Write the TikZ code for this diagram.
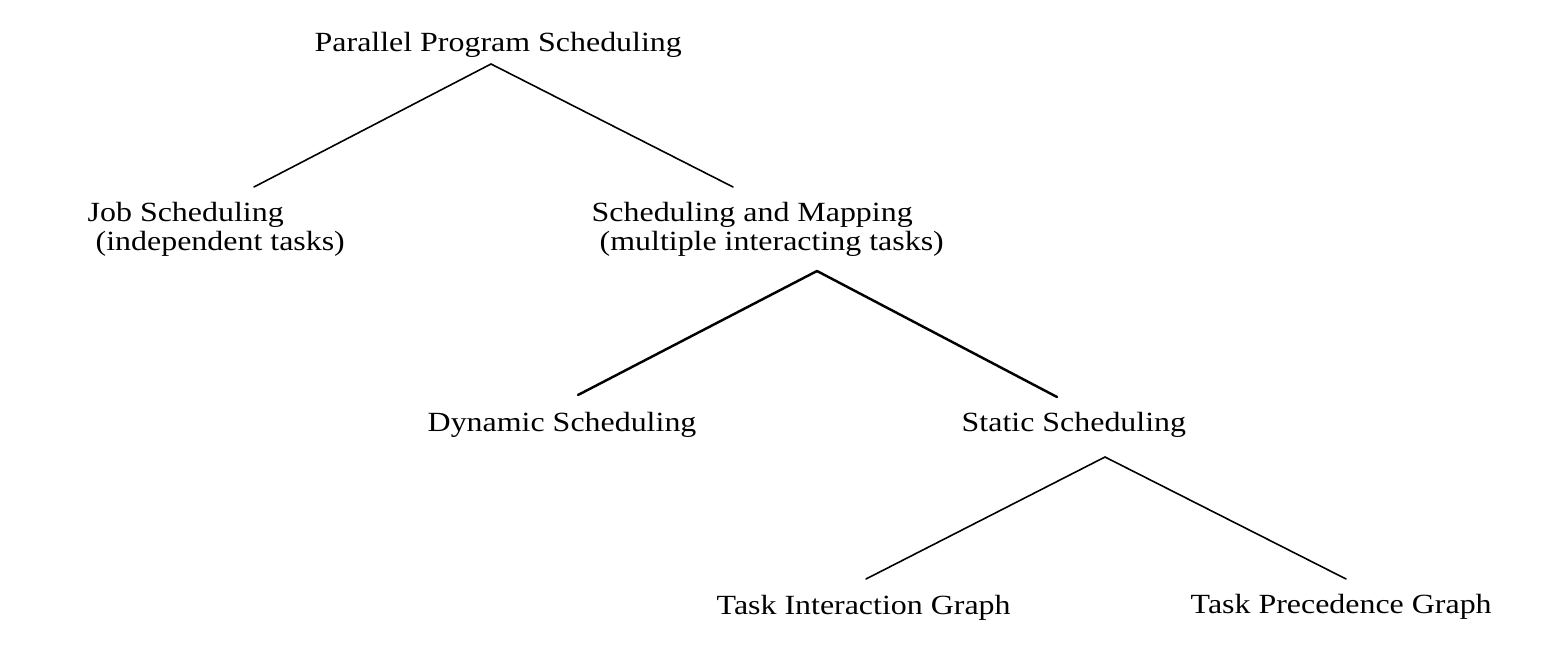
\documentclass[tikz,border=0pt]{standalone}
\usepackage{fontspec}
\setmainfont[FakeStretch=1.15]{Liberation Serif}
\usepackage{tkz-euclide}
\tikzset{label/.style={anchor=base west,inner sep=0pt,align=left,
    font=\fontsize{7.9}{8.3}\selectfont}}

\begin{document}
\begin{tikzpicture}
\path[use as bounding box] (0,0) rectangle (15.62,-6.62);
\tkzSetUpLine[line width=0.45pt,color=black]

\tkzDefPoints{4.91/-0.64/R,2.54/-1.87/J,7.33/-1.87/M}
\tkzDefPoints{8.17/-2.71/M1,5.78/-3.95/D,10.57/-3.97/S}
\tkzDefPoints{11.05/-4.57/S1,8.66/-5.79/I,13.46/-5.79/P}

% two-line labels sit on the baseline of their last line
\node[label] (root) at (3.14,-0.52) {Parallel Program Scheduling};
\node[label] (job) at (0.87,-2.51) {Job Scheduling\\\ (independent tasks)};
\node[label] (map) at (5.91,-2.51) {Scheduling and Mapping\\\ (multiple interacting tasks)};
\node[label] (dyn) at (4.27,-4.32) {Dynamic Scheduling};
\node[label] (stat) at (9.61,-4.32) {Static Scheduling};
\node[label] (tig) at (7.16,-6.15) {Task Interaction Graph};
\node[label] (tpg) at (11.90,-6.14) {Task Precedence Graph};

\tkzDrawSegments(R,J R,M)
\tkzDrawSegments[line width=0.7pt](M1,D M1,S)
\tkzDrawSegments(S1,I S1,P)

\end{tikzpicture}
\end{document}
